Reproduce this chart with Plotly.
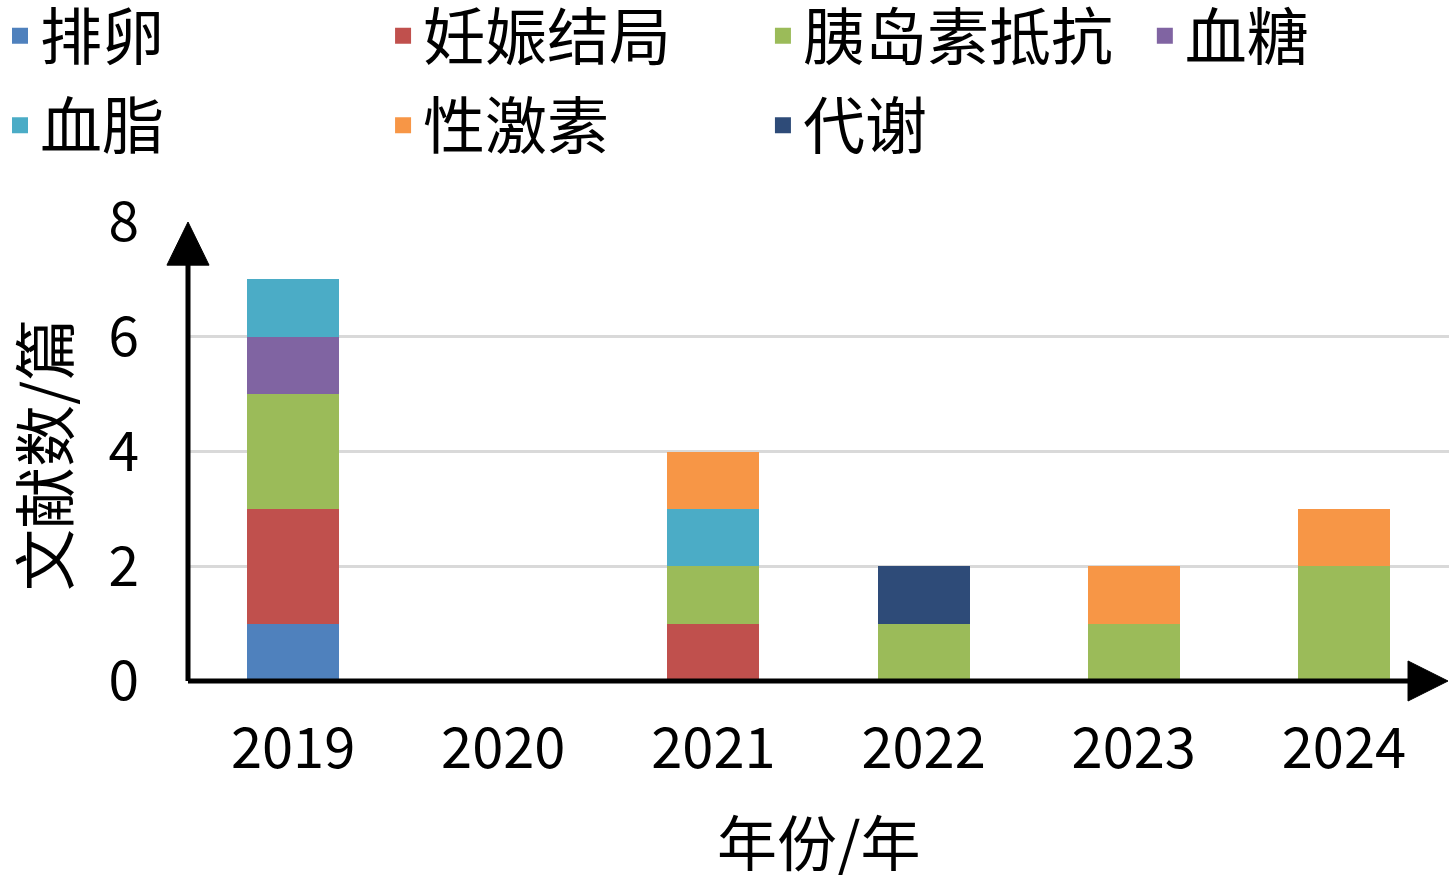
import plotly.graph_objects as go

years = ["2019", "2020", "2021", "2022", "2023", "2024"]
series_names = ["排卵", "妊娠结局", "胰岛素抵抗", "血糖", "血脂", "性激素", "代谢"]
ovulation = [1, 0, 0, 0, 0, 0]
pregnancy = [2, 0, 1, 0, 0, 0]
insulin = [2, 0, 1, 1, 1, 2]
glucose = [1, 0, 0, 0, 0, 0]
lipid = [1, 0, 1, 0, 0, 0]
sexhormone = [0, 0, 1, 0, 1, 1]
metabolism = [0, 0, 0, 1, 0, 0]
y_ticks = [0, 2, 4, 6, 8]

series_values = [ovulation, pregnancy, insulin, glucose, lipid, sexhormone, metabolism]
colors = ["#4F81BD", "#C0504D", "#9BBB59", "#8064A2", "#4BACC6", "#F79646", "#2E4B78"]
legend_ids = ["legend", "legend2", "legend3", "legend4", "legend", "legend2", "legend3"]

CJK = "Noto Sans CJK SC"
fig = go.Figure()
for name, vals, col in zip(series_names, series_values, colors):
    fig.add_trace(go.Bar(
        x=years, y=vals, name=name, marker=dict(color=col, line=dict(width=0)),
        showlegend=False, legendgroup=name,
    ))
# legend entries (square swatches) for each series
for name, col, lg in zip(series_names, colors, legend_ids):
    fig.add_trace(go.Scatter(
        x=[None], y=[None], mode="markers", name=name, legend=lg, legendgroup=name,
        marker=dict(symbol="square", size=16, color=col), hoverinfo="skip",
    ))

leg_common = dict(orientation="v", xref="container", yref="paper", y=1.508, yanchor="top",
                  xanchor="left", font=dict(family=CJK, size=62, color="#000"),
                  bgcolor="rgba(0,0,0,0)", traceorder="grouped", tracegroupgap=6,
                  itemclick=False, itemdoubleclick=False)
lx = [0.0, 0.264, 0.5258, 0.789]

fig.update_layout(
    width=1451, height=875,
    barmode="stack", bargap=0.562,
    plot_bgcolor="white", paper_bgcolor="white",
    margin=dict(l=188, r=2, t=222, b=194, autoexpand=False),
    font=dict(family=CJK, color="#000"),
    legend=dict(x=lx[0], **leg_common),
    legend2=dict(x=lx[1], **leg_common),
    legend3=dict(x=lx[2], **leg_common),
    legend4=dict(x=lx[3], **leg_common),
    xaxis=dict(
        type="category", range=[-0.5, 5.5], showgrid=False, showline=False, zeroline=False,
        ticks="", tickfont=dict(family=CJK, size=56, color="#000"), ticklabelstandoff=30,
        automargin=False,
    ),
    yaxis=dict(
        range=[0, 8], tickvals=y_ticks, showgrid=True, gridcolor="#D9D9D9", gridwidth=3,
        showline=False, zeroline=False, ticks="",
        tickfont=dict(family=CJK, size=55, color="#000"), ticklabelstandoff=48,
        automargin=False,
    ),
    annotations=[
        dict(text="年份/年", xref="paper", yref="paper", x=0.5, y=-0.345,
             xanchor="center", yanchor="middle", showarrow=False,
             font=dict(family=CJK, size=60, color="#000")),
        dict(text="文献数/篇", xref="paper", yref="paper", x=-0.116, y=0.492,
             xanchor="center", yanchor="middle", showarrow=False, textangle=-90,
             font=dict(family=CJK, size=62, color="#000")),
    ],
    shapes=[
        dict(type="line", xref="paper", yref="paper", x0=0, x1=0, y0=0, y1=0.92,
             line=dict(color="black", width=5), layer="above"),
        dict(type="path", xref="paper", yref="paper",
             path="M 0 1 L -0.0167 0.906 L 0.0167 0.906 Z",
             fillcolor="black", line=dict(color="black", width=1), layer="above"),
        dict(type="line", xref="paper", yref="paper", x0=0, x1=0.97, y0=0, y1=0,
             line=dict(color="black", width=5), layer="above"),
        dict(type="path", xref="paper", yref="paper",
             path="M 0.9992 0 L 0.9675 0.0436 L 0.9675 -0.0436 Z",
             fillcolor="black", line=dict(color="black", width=1), layer="above"),
    ],
)

fig.write_html("out.html", config={"displayModeBar": False},
               post_script="document.body.style.margin='0';")
